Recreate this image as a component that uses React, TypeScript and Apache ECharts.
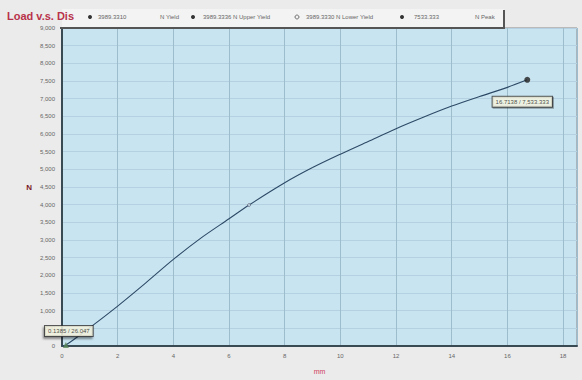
import React, { useEffect, useRef } from "react";
import * as echarts from "echarts";

const chartTitle = "Load v.s. Dis";
const xName = "mm";
const yName = "N";

const disp = [0, 0.14, 1, 2, 3, 4, 5, 6, 6.72, 8, 9, 10, 11, 12, 13, 14, 15, 16, 16.71];
const load = [0, 26, 520, 1130, 1780, 2450, 3060, 3600, 3990, 4620, 5050, 5430, 5790, 6150, 6480, 6790, 7060, 7320, 7533];

const startPoint = [0.1385, 26.047];
const yieldPoint = [6.72, 3989.331];
const peakPoint = [16.7138, 7533.333];

const legendNumbers = ["3989.3310", "3989.3336", "3989.3330", "7533.333"];
const legendNames = ["N Yield", "N Upper Yield", "N Lower Yield", "N Peak"];

const yTicks = { min: 0, max: 9000, interval: 500 };
const xTicks = { min: 0, max: 18.5, interval: 2 };

export default function App() {
  const ref = useRef<HTMLDivElement>(null);
  useEffect(() => {
    if (!ref.current) return;
    const chart = echarts.init(ref.current, null, { renderer: "svg" });
    const fmt = (v: number) => v.toLocaleString("en-US");
    const legendFont = { fontSize: 6, fill: "#666", fontFamily: "Liberation Sans" };
    const option: any = {
      animation: false,
      backgroundColor: "#ebebeb",
      grid: {
        left: 62,
        right: 5,
        top: 28,
        bottom: 32,
        show: true,
        backgroundColor: "#c9e4f1",
        borderColor: "#888",
        borderWidth: 1,
      },
      xAxis: {
        type: "value",
        min: xTicks.min,
        max: xTicks.max,
        interval: xTicks.interval,
        name: xName,
        nameLocation: "middle",
        nameGap: 22,
        nameTextStyle: { color: "#d0405e", fontSize: 7, fontFamily: "Liberation Sans" },
        axisLine: { show: true, onZero: false, lineStyle: { color: "#3a4a55", width: 2 } },
        axisTick: { show: false },
        axisLabel: { fontSize: 6, color: "#666", margin: 7, showMaxLabel: false, fontFamily: "Liberation Sans" },
        splitLine: { show: true, lineStyle: { color: "#9ebdcc", width: 1 } },
      },
      yAxis: {
        type: "value",
        min: yTicks.min,
        max: yTicks.max,
        interval: yTicks.interval,
        name: yName,
        nameLocation: "middle",
        nameGap: 30,
        nameRotate: 0,
        nameTextStyle: { color: "#7a1a2a", fontSize: 8, fontWeight: "bold", fontFamily: "Liberation Sans" },
        axisLine: { show: true, lineStyle: { color: "#3a4a55", width: 2 } },
        axisTick: { show: false },
        axisLabel: { fontSize: 6, color: "#666", margin: 7, formatter: fmt, fontFamily: "Liberation Sans" },
        splitLine: { show: true, lineStyle: { color: "#b3d1e0", width: 1 } },
      },
      series: [
        {
          type: "line",
          data: disp.map((d, i) => [d, load[i]]),
          smooth: 0.3,
          showSymbol: false,
          lineStyle: { color: "#2c4a66", width: 1.1 },
          z: 2,
        },
        {
          type: "scatter",
          data: [peakPoint],
          symbol: "circle",
          symbolSize: 6,
          itemStyle: { color: "#222" },
          label: {
            show: true,
            position: "bottom",
            distance: 14,
            offset: [-5, 0],
            formatter: () => `${peakPoint[0]} / ${fmt(peakPoint[1])}`,
            fontSize: 6,
            color: "#222",
            backgroundColor: "#fbfbe6",
            borderColor: "#333",
            borderWidth: 1,
            padding: [2, 3],
            shadowColor: "rgba(0,0,0,0.4)",
            shadowOffsetX: 1,
            shadowOffsetY: 1,
            shadowBlur: 1,
            fontFamily: "Liberation Sans",
          },
          z: 4,
        },
        {
          type: "scatter",
          data: [yieldPoint],
          symbol: "circle",
          symbolSize: 3,
          itemStyle: { color: "#cfe6f2", borderColor: "#556", borderWidth: 0.8 },
          z: 4,
        },
        {
          type: "scatter",
          data: [startPoint],
          symbol: "triangle",
          symbolSize: 6,
          itemStyle: { color: "#5a8a5a" },
          label: {
            show: true,
            position: "top",
            distance: 6,
            offset: [3, 0],
            formatter: () => `${startPoint[0]} / ${fmt(startPoint[1])}`,
            fontSize: 6,
            color: "#222",
            backgroundColor: "#fbfbe6",
            borderColor: "#333",
            borderWidth: 1,
            padding: [2, 3],
            shadowColor: "rgba(0,0,0,0.5)",
            shadowOffsetX: -1,
            shadowOffsetY: 2,
            shadowBlur: 2,
            fontFamily: "Liberation Sans",
          },
          z: 5,
        },
      ],
      graphic: [
        {
          type: "rect",
          shape: { x: 62, y: 9, width: 442, height: 19 },
          style: { fill: "#f3f3f3", stroke: "none" },
          z: 10,
        },
        {
          type: "polyline",
          shape: { points: [[60, 28], [504, 28], [504, 10]] },
          style: { stroke: "#555", lineWidth: 2, fill: "none" },
          z: 11,
        },
        {
          type: "text",
          x: 7,
          y: 10,
          style: { text: chartTitle, fontSize: 11, fontWeight: "bold", fill: "#b8324a", fontFamily: "Liberation Sans" },
          z: 12,
        },
        { type: "circle", shape: { cx: 90, cy: 17, r: 2 }, style: { fill: "#333" }, z: 12 },
        { type: "text", x: 98, y: 14, style: { ...legendFont, text: legendNumbers[0] }, z: 12 },
        { type: "text", x: 160, y: 14, style: { ...legendFont, text: legendNames[0] }, z: 12 },
        { type: "circle", shape: { cx: 193, cy: 17, r: 2 }, style: { fill: "#333" }, z: 12 },
        { type: "text", x: 203, y: 14, style: { ...legendFont, text: legendNumbers[1] + " " + legendNames[1] }, z: 12 },
        { type: "circle", shape: { cx: 297, cy: 17, r: 2 }, style: { fill: "none", stroke: "#555", lineWidth: 0.8 }, z: 12 },
        { type: "text", x: 306, y: 14, style: { ...legendFont, text: legendNumbers[2] + " " + legendNames[2] }, z: 12 },
        { type: "circle", shape: { cx: 402, cy: 17, r: 2 }, style: { fill: "#333" }, z: 12 },
        { type: "text", x: 414, y: 14, style: { ...legendFont, text: legendNumbers[3] }, z: 12 },
        { type: "text", x: 475, y: 14, style: { ...legendFont, text: legendNames[3] }, z: 12 },
      ],
    };
    chart.setOption(option);
    return () => chart.dispose();
  }, []);
  return (
    <div
      ref={ref}
      style={{ position: "fixed", left: 0, top: 0, width: 582, height: 380 }}
    />
  );
}
